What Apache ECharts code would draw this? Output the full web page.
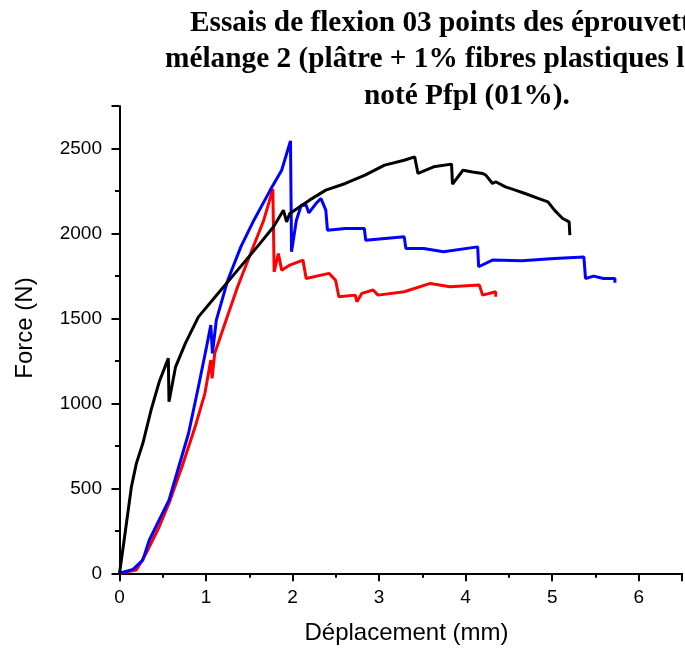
<!DOCTYPE html>
<html>
<head>
<meta charset="utf-8">
<script src="https://cdn.jsdelivr.net/npm/echarts@6/dist/echarts.min.js"></script>
<style>
html,body{margin:0;padding:0;background:#fff;}
#chart{width:685px;height:648px;}
</style>
</head>
<body>
<div id="chart"></div>
<script>
// Title lines (the reference is cut at the right edge)
const titleLines = [
  "Essais de flexion 03 points des éprouvettes du",
  "mélange 2 (plâtre + 1% fibres plastiques longues)",
  "noté Pfpl (01%)."
];
const xAxisTitle = "Déplacement (mm)";
const yAxisTitle = "Force (N)";

// Black specimen
const blackDisp = [0, 0.043, 0.138, 0.195, 0.27, 0.365, 0.459, 0.564, 0.572, 0.648, 0.761, 0.912, 1.138, 1.365, 1.591, 1.78, 1.894, 1.931, 1.968, 2.195, 2.384, 2.61, 2.837, 3.063, 3.29, 3.411, 3.449, 3.63, 3.837, 3.848, 3.969, 4.08, 4.196, 4.233, 4.31, 4.347, 4.46, 4.573, 4.686, 4.838, 4.951, 5.026, 5.121, 5.196, 5.204];
const blackForce = [0, 156, 510, 647, 765, 961, 1127, 1265, 1009, 1215, 1353, 1509, 1647, 1784, 1921, 2039, 2137, 2068, 2118, 2196, 2255, 2294, 2343, 2402, 2431, 2451, 2353, 2392, 2408, 2290, 2372, 2362, 2353, 2343, 2294, 2304, 2274, 2255, 2235, 2206, 2186, 2137, 2088, 2068, 1990];

// Blue specimen
const blueDisp = [0, 0.156, 0.27, 0.345, 0.459, 0.572, 0.685, 0.798, 0.912, 1.006, 1.055, 1.074, 1.119, 1.251, 1.402, 1.553, 1.742, 1.874, 1.976, 1.988, 2.044, 2.1, 2.157, 2.188, 2.27, 2.327, 2.384, 2.403, 2.61, 2.829, 2.845, 3.29, 3.309, 3.516, 3.743, 4.139, 4.15, 4.309, 4.649, 5.026, 5.366, 5.385, 5.479, 5.592, 5.725, 5.725];
const blueForce = [0, 23, 78, 196, 314, 431, 627, 824, 1098, 1333, 1461, 1294, 1490, 1725, 1921, 2078, 2255, 2372, 2545, 1892, 2078, 2166, 2166, 2121, 2176, 2206, 2137, 2019, 2029, 2029, 1960, 1980, 1912, 1912, 1892, 1921, 1804, 1843, 1839, 1853, 1862, 1735, 1749, 1735, 1735, 1710];

// Red specimen
const redDisp = [0, 0.195, 0.308, 0.459, 0.572, 0.722, 0.874, 0.987, 1.055, 1.07, 1.1, 1.232, 1.365, 1.515, 1.667, 1.772, 1.787, 1.836, 1.874, 1.968, 2.12, 2.157, 2.421, 2.497, 2.535, 2.724, 2.743, 2.8, 2.931, 2.988, 3.29, 3.592, 3.819, 4.159, 4.196, 4.347, 4.347];
const redForce = [0, 19, 118, 274, 412, 627, 862, 1059, 1255, 1147, 1294, 1490, 1686, 1882, 2078, 2261, 1774, 1882, 1784, 1814, 1843, 1735, 1765, 1725, 1627, 1637, 1598, 1647, 1667, 1637, 1657, 1706, 1686, 1696, 1637, 1657, 1627];

const xTicks = [0, 1, 2, 3, 4, 5, 6];
const yTicks = [0, 500, 1000, 1500, 2000, 2500];

function zip(a, b) { return a.map((v, i) => [v, b[i]]); }

const chart = echarts.init(document.getElementById('chart'), null, {renderer: 'canvas'});

const axisCommon = {
  axisLine: {show: true, onZero: false, lineStyle: {color: '#000', width: 2}},
  splitLine: {show: false}
};
const titleFont = 'bold 29.3px "Liberation Serif"';

const option = {
  animation: false,
  backgroundColor: '#fff',
  grid: {left: 119.5, top: 106, width: 574, height: 467.3, containLabel: false},
  xAxis: [
    Object.assign({}, axisCommon, {
      type: 'value', min: 0, max: 6.5, interval: 1, position: 'bottom',
      axisTick: {show: true, inside: false, length: 8, lineStyle: {color: '#000', width: 2}},
      axisLabel: {
        show: true, margin: 15, color: '#000', fontFamily: 'Liberation Sans', fontSize: 19,
        formatter: v => xTicks.indexOf(v) >= 0 ? String(v) : ''
      }
    }),
    {
      type: 'value', min: 0, max: 6.5, interval: 0.5, position: 'bottom',
      axisLine: {show: false}, splitLine: {show: false}, axisLabel: {show: false},
      axisTick: {show: true, inside: false, length: 4.5, lineStyle: {color: '#000', width: 2}}
    }
  ],
  yAxis: [
    Object.assign({}, axisCommon, {
      type: 'value', min: 0, max: 2750, interval: 500, position: 'left',
      axisTick: {show: true, inside: false, length: 8, lineStyle: {color: '#000', width: 2}},
      axisLabel: {
        show: true, margin: 17.5, color: '#000', fontFamily: 'Liberation Sans', fontSize: 19,
        formatter: v => yTicks.indexOf(v) >= 0 ? String(v) : ''
      }
    }),
    {
      type: 'value', min: 0, max: 2750, interval: 250, position: 'left',
      axisLine: {show: false}, splitLine: {show: false}, axisLabel: {show: false},
      axisTick: {show: true, inside: false, length: 4.5, lineStyle: {color: '#000', width: 2}}
    }
  ],
  graphic: [
    {type: 'text', x: 190, y: 23, style: {text: titleLines[0], font: titleFont, fill: '#000', textVerticalAlign: 'middle'}},
    {type: 'text', x: 165, y: 59, style: {text: titleLines[1], font: titleFont, fill: '#000', textVerticalAlign: 'middle'}},
    {type: 'text', x: 364, y: 96, style: {text: titleLines[2], font: titleFont, fill: '#000', textVerticalAlign: 'middle'}},
    {type: 'text', x: 406.5, y: 633, style: {text: xAxisTitle, font: '24px "Liberation Sans"', fill: '#000', textAlign: 'center', textVerticalAlign: 'middle'}},
    {type: 'text', x: 25, y: 328, rotation: Math.PI / 2, style: {text: yAxisTitle, font: '24px "Liberation Sans"', fill: '#000', textAlign: 'center', textVerticalAlign: 'middle'}}
  ],
  series: [
    {type: 'line', name: 'red', data: zip(redDisp, redForce), showSymbol: false, symbol: 'none',
     lineStyle: {color: '#ff0000', width: 3}, xAxisIndex: 0, yAxisIndex: 0, z: 2},
    {type: 'line', name: 'blue', data: zip(blueDisp, blueForce), showSymbol: false, symbol: 'none',
     lineStyle: {color: '#0000ff', width: 3}, xAxisIndex: 0, yAxisIndex: 0, z: 3},
    {type: 'line', name: 'black', data: zip(blackDisp, blackForce), showSymbol: false, symbol: 'none',
     lineStyle: {color: '#000000', width: 3}, xAxisIndex: 0, yAxisIndex: 0, z: 4}
  ]
};
chart.setOption(option);
</script>
</body>
</html>
